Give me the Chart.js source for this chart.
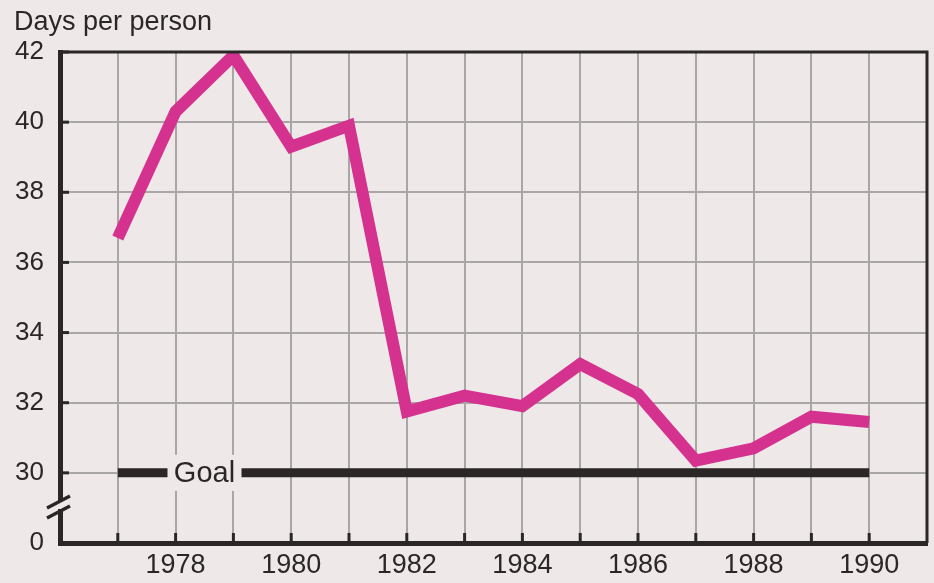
<!DOCTYPE html>
<html>
<head>
<meta charset="utf-8">
<script src="https://cdn.jsdelivr.net/npm/chart.js@4.4.0/dist/chart.umd.min.js"></script>
<style>
  html, body { margin: 0; padding: 0; background: #eee8e9; }
  #wrap { width: 934px; height: 583px; position: relative; }
</style>
</head>
<body>
<div id="wrap"><canvas id="chart" width="934" height="583"></canvas></div>
<script>
// data
const years = [1977, 1978, 1979, 1980, 1981, 1982, 1983, 1984, 1985, 1986, 1987, 1988, 1989, 1990];
const daysPerPerson = [36.7, 40.3, 41.9, 39.3, 39.9, 31.75, 32.2, 31.9, 33.1, 32.25, 30.35, 30.7, 31.6, 31.45];
const goalYears = [1977, 1990];
const goalValue = 30;
const yTicks = [30, 32, 34, 36, 38, 40, 42];
const xLabelYears = [1978, 1980, 1982, 1984, 1986, 1988, 1990];

const BG = '#eee8e9';
const INK = '#2b2727';
const GRID = '#a9a6a6';
const MAGENTA = '#d5328f';
const FONT = "'Liberation Sans', Arial, Helvetica, sans-serif";

// background, inner ticks, frame, goal label, axis break
const decorations = {
    id: 'decorations',
    beforeDraw(chart) {
        const ctx = chart.ctx;
        ctx.save();
        ctx.fillStyle = BG;
        ctx.fillRect(0, 0, chart.width, chart.height);
        ctx.restore();
    },
    afterDatasetsDraw(chart) {
        const ctx = chart.ctx;
        const x = chart.scales.x;
        const y = chart.scales.y;
        const area = chart.chartArea;
        ctx.save();

        // "Goal" label sitting in a gap of the goal line
        const gx = x.getPixelForValue(1978.5);
        const gy = y.getPixelForValue(goalValue);
        ctx.fillStyle = BG;
        ctx.fillRect(gx - 37, gy - 18, 74, 36);
        ctx.fillStyle = INK;
        ctx.font = '29px ' + FONT;
        ctx.textAlign = 'center';
        ctx.textBaseline = 'middle';
        ctx.fillText('Goal', gx, gy + 1);

        // top and right frame
        ctx.strokeStyle = INK;
        ctx.lineWidth = 3;
        ctx.beginPath();
        ctx.moveTo(area.left, area.top);
        ctx.lineTo(area.right, area.top);
        ctx.lineTo(area.right, area.bottom);
        ctx.stroke();

        // short ticks inside the plot
        ctx.lineWidth = 3;
        yTicks.forEach(function (v) {
            const py = y.getPixelForValue(v);
            ctx.beginPath();
            ctx.moveTo(area.left, py);
            ctx.lineTo(area.left + 9, py);
            ctx.stroke();
        });
        years.forEach(function (v) {
            const px = x.getPixelForValue(v);
            ctx.beginPath();
            ctx.moveTo(px, area.bottom);
            ctx.lineTo(px, area.bottom - 10);
            ctx.stroke();
        });

        // axis break
        ctx.fillStyle = BG;
        ctx.fillRect(area.left - 4, 501, 8, 8);
        ctx.lineWidth = 3.5;
        ctx.beginPath();
        ctx.moveTo(47, 508);
        ctx.lineTo(70, 496);
        ctx.moveTo(47, 518);
        ctx.lineTo(70, 506);
        ctx.stroke();

        // y axis title
        ctx.fillStyle = INK;
        ctx.font = '27px ' + FONT;
        ctx.textAlign = 'left';
        ctx.textBaseline = 'alphabetic';
        ctx.fillText('Days per person', 14, 30);
        ctx.restore();
    }
};

const ctx = document.getElementById('chart').getContext('2d');
new Chart(ctx, {
    type: 'line',
    data: {
        datasets: [{
            label: 'Goal',
            data: goalYears.map(function (yr) { return { x: yr, y: goalValue }; }),
            borderColor: INK,
            borderWidth: 9,
            pointRadius: 0,
            borderCapStyle: 'butt'
        }, {
            label: 'Days per person',
            data: years.map(function (yr, i) { return { x: yr, y: daysPerPerson[i] }; }),
            borderColor: MAGENTA,
            borderWidth: 12,
            pointRadius: 0,
            tension: 0,
            borderJoinStyle: 'miter',
            borderCapStyle: 'butt'
        }]
    },
    options: {
        responsive: false,
        animation: false,
        devicePixelRatio: 1,
        layout: { padding: { top: 52, right: 7, left: 0, bottom: 0 } },
        plugins: {
            legend: { display: false },
            tooltip: { enabled: false }
        },
        scales: {
            x: {
                type: 'linear',
                min: 1976,
                max: 1991,
                afterFit: function (scale) { scale.height = 40; },
                ticks: {
                    stepSize: 1,
                    autoSkip: false,
                    maxRotation: 0,
                    padding: 6,
                    color: INK,
                    font: { family: FONT, size: 27 },
                    callback: function (v) { return xLabelYears.includes(v) ? String(v) : ''; }
                },
                grid: {
                    drawTicks: false,
                    lineWidth: 2,
                    color: function (c) {
                        const v = c.tick && c.tick.value;
                        return (v === 1976 || v === 1991) ? 'rgba(0,0,0,0)' : GRID;
                    }
                },
                border: { display: true, color: INK, width: 5 }
            },
            y: {
                min: 28,
                max: 42,
                afterFit: function (scale) { scale.width = 60; },
                afterBuildTicks: function (scale) {
                    scale.ticks = [28].concat(yTicks).map(function (v) { return { value: v }; });
                },
                ticks: {
                    padding: 16,
                    color: INK,
                    font: { family: FONT, size: 26 },
                    callback: function (v) { return v === 28 ? '0' : String(v); }
                },
                grid: {
                    drawTicks: false,
                    lineWidth: 2,
                    color: function (c) {
                        const v = c.tick && c.tick.value;
                        return (v === 28 || v === 42) ? 'rgba(0,0,0,0)' : GRID;
                    }
                },
                border: { display: true, color: INK, width: 5 }
            }
        }
    },
    plugins: [decorations]
});
</script>
</body>
</html>
